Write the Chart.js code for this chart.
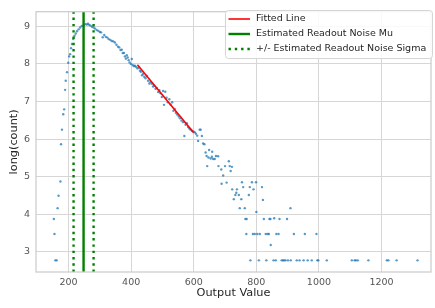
<!DOCTYPE html>
<html>
<head>
<meta charset="utf-8">
<script src="https://cdn.jsdelivr.net/npm/chart.js@4.4.1/dist/chart.umd.min.js"></script>
<style>
  html, body { margin: 0; padding: 0; background: #fff; }
</style>
</head>
<body>
<canvas id="graficoRumore" width="435" height="308"></canvas>
<script>
// histogram points: output value and log of the bin count
const outputValues = [
  153, 155, 158, 162, 165, 168, 174, 176, 179, 183,
  186, 189, 191, 195, 199, 202, 205, 208, 211, 215,
  219, 223, 227, 232, 237, 242, 248, 253, 258, 262,
  266, 270, 275, 280, 285, 290, 295, 300, 304, 309,
  314, 319, 324, 328, 333, 338, 343, 348, 353, 358,
  362, 366, 370, 373, 377, 380, 383, 386, 389, 392,
  395, 399, 402, 405, 409, 412, 416, 420, 424, 428,
  431, 435, 438, 442, 446, 450, 454, 458, 462, 466,
  470, 474, 478, 482, 486, 490, 494, 498, 502, 505,
  509, 513, 517, 522, 526, 531, 535, 539, 543, 547,
  552, 556, 561, 566, 570, 574, 578, 582, 586, 590,
  594, 599, 603, 607, 611, 614, 619, 622, 626, 630,
  634, 638, 641, 643, 647, 649, 654, 658, 659, 662,
  667, 671, 678, 679, 688, 689, 694, 700, 705, 712,
  715, 718, 722, 723, 728, 733, 736, 738, 744, 747,
  752, 754, 758, 763, 765, 768, 769, 776, 779, 781,
  786, 789, 791, 795, 799, 800, 803, 808, 811, 818,
  821, 824, 830, 832, 836, 840, 842, 845, 846, 855,
  857, 862, 864, 871, 874, 881, 885, 889, 893, 898,
  901, 909, 910, 920, 929, 938, 951, 955, 964, 977,
  992, 995, 998, 1025, 1105, 1114, 1118, 1124, 1158, 1217,
  1222, 1248, 1315
];
const logCounts = [
  3.87, 3.47, 2.77, 2.77, 4.16, 4.49, 4.87, 5.86, 6.25, 6.66,
  6.79, 7.31, 7.55, 7.78, 8.03, 8.20, 8.26, 8.42, 8.53, 8.66,
  8.75, 8.81, 8.87, 8.92, 8.97, 9.01, 9.03, 9.06, 9.05, 9.07,
  9.04, 9.02, 8.99, 8.97, 8.94, 8.90, 8.88, 8.85, 8.84, 8.71,
  8.77, 8.72, 8.70, 8.66, 8.64, 8.61, 8.60, 8.57, 8.51, 8.46,
  8.44, 8.37, 8.38, 8.29, 8.29, 8.20, 8.14, 8.23, 8.17, 8.10,
  8.04, 8.00, 8.13, 7.97, 7.94, 7.95, 7.92, 7.88, 7.90, 7.82,
  7.79, 7.70, 7.74, 7.66, 7.62, 7.68, 7.55, 7.48, 7.52, 7.47,
  7.40, 7.42, 7.34, 7.36, 7.25, 7.30, 7.22, 7.12, 7.28, 6.91,
  7.26, 7.10, 6.98, 7.06, 6.92, 6.98, 6.75, 6.80, 6.70, 6.65,
  6.60, 6.55, 6.49, 6.45, 6.08, 6.38, 6.42, 6.32, 6.28, 6.25,
  6.22, 6.20, 6.18, 6.14, 6.09, 5.95, 6.25, 6.25, 6.08, 5.88,
  5.86, 5.64, 5.55, 5.28, 5.51, 5.71, 5.48, 5.53, 5.66, 5.47,
  5.47, 5.55, 5.54, 5.28, 5.19, 4.81, 5.03, 5.28, 4.84, 5.41,
  5.28, 5.15, 5.26, 4.66, 4.40, 4.51, 4.57, 4.66, 4.51, 4.16,
  4.40, 4.85, 4.72, 4.16, 3.87, 3.47, 3.87, 4.51, 4.72, 2.77,
  4.85, 3.47, 4.66, 3.47, 4.85, 4.06, 3.47, 2.77, 3.47, 4.72,
  4.38, 3.87, 3.47, 2.77, 3.47, 3.47, 3.87, 3.87, 3.18, 2.77,
  3.89, 2.77, 3.47, 3.47, 3.87, 2.77, 2.77, 2.77, 2.77, 3.87,
  2.77, 4.16, 2.77, 3.47, 2.77, 2.77, 2.77, 3.47, 2.77, 2.77,
  3.47, 2.77, 2.77, 2.77, 2.77, 2.77, 2.77, 2.77, 2.77, 2.77,
  2.77, 2.77, 2.77
];

// fitted line end points
const fitX = [420, 600];
const fitY = [7.98, 6.17];

// estimated readout noise
const noiseMu = 248;
const noiseSigma = 32;

// axes
const xTicks = [200, 400, 600, 800, 1000, 1200];
const yTicks = [3, 4, 5, 6, 7, 8, 9];
const xRange = [96, 1358];
const yRange = [2.46, 9.39];

const punti = outputValues.map((v, i) => ({ x: v, y: logCounts[i] }));
const rettaFit = fitX.map((v, i) => ({ x: v, y: fitY[i] }));
const verticale = x => [{ x: x, y: yRange[0] }, { x: x, y: yRange[1] }];

// frame round the plot area
const cornice = {
  id: 'cornice',
  afterDraw(chart) {
    const a = chart.chartArea;
    const ctx = chart.ctx;
    ctx.save();
    ctx.strokeStyle = '#cccccc';
    ctx.lineWidth = 1.25;
    ctx.strokeRect(a.left, a.top, a.right - a.left, a.bottom - a.top);
    ctx.restore();
  }
};

// legend inside the plot, top right
const legendaInterna = {
  id: 'legendaInterna',
  afterDraw(chart) {
    const ctx = chart.ctx;
    const voci = chart.data.datasets.filter(d => d.inLegenda);
    ctx.save();
    ctx.fillStyle = 'rgba(255,255,255,0.85)';
    ctx.strokeStyle = '#d5d5d5';
    ctx.lineWidth = 1;
    ctx.beginPath();
    ctx.roundRect(225.5, 10.5, 207, 48, 3);
    ctx.fill();
    ctx.stroke();
    ctx.font = '9.5px "DejaVu Sans"';
    ctx.textBaseline = 'middle';
    voci.forEach((d, i) => {
      const y = 19 + i * 15;
      ctx.beginPath();
      ctx.strokeStyle = d.borderColor;
      ctx.lineWidth = d.borderWidth;
      ctx.setLineDash(d.borderDash || []);
      ctx.moveTo(228.5, y);
      ctx.lineTo(250, y);
      ctx.stroke();
      ctx.setLineDash([]);
      ctx.fillStyle = '#262626';
      ctx.fillText(d.label, 256, y);
    });
    ctx.restore();
  }
};

const ctx = document.getElementById('graficoRumore').getContext('2d');
const grafico = new Chart(ctx, {
  type: 'scatter',
  data: {
    datasets: [
      {
        label: 'Fitted Line',
        type: 'line',
        data: rettaFit,
        borderColor: '#ff0000',
        borderWidth: 1.6,
        pointRadius: 0,
        inLegenda: true,
        order: 1
      },
      {
        label: 'Estimated Readout Noise Mu',
        type: 'line',
        data: verticale(noiseMu),
        borderColor: '#008000',
        borderWidth: 2.4,
        pointRadius: 0,
        inLegenda: true,
        order: 2
      },
      {
        label: '+/- Estimated Readout Noise Sigma',
        type: 'line',
        data: verticale(noiseMu - noiseSigma),
        borderColor: '#008000',
        borderWidth: 2.4,
        borderDash: [2.4, 3.9],
        pointRadius: 0,
        inLegenda: true,
        order: 3
      },
      {
        label: 'sigma +',
        type: 'line',
        data: verticale(noiseMu + noiseSigma),
        borderColor: '#008000',
        borderWidth: 2.4,
        borderDash: [2.4, 3.9],
        pointRadius: 0,
        order: 3
      },
      {
        label: 'log count',
        data: punti,
        backgroundColor: 'rgba(31,119,180,0.75)',
        borderWidth: 0,
        pointRadius: 1.2,
        order: 10
      }
    ]
  },
  options: {
    responsive: false,
    animation: false,
    devicePixelRatio: 1,
    layout: { padding: { top: 6, right: 3, left: 0, bottom: 0 } },
    plugins: {
      legend: { display: false },
      tooltip: { enabled: false }
    },
    scales: {
      x: {
        type: 'linear',
        min: xRange[0],
        max: xRange[1],
        afterBuildTicks: s => { s.ticks = xTicks.map(v => ({ value: v })); },
        afterFit: s => { s.height = 36; },
        grid: { color: '#d6d6d6', lineWidth: 1, drawTicks: false },
        border: { display: false },
        ticks: {
          color: '#555555',
          padding: 5,
          font: { family: 'DejaVu Sans', size: 9.5 },
          callback: v => String(v)
        },
        title: {
          display: true,
          text: 'Output Value',
          color: '#262626',
          font: { family: 'DejaVu Sans', size: 11.3 },
          padding: { top: 0, bottom: 8 }
        }
      },
      y: {
        type: 'linear',
        min: yRange[0],
        max: yRange[1],
        afterBuildTicks: s => { s.ticks = yTicks.map(v => ({ value: v })); },
        afterFit: s => { s.width = 36; },
        grid: { color: '#d6d6d6', lineWidth: 1, drawTicks: false },
        border: { display: false },
        ticks: {
          color: '#555555',
          padding: 6,
          font: { family: 'DejaVu Sans', size: 9.5 },
          callback: v => String(v)
        },
        title: {
          display: true,
          text: 'long(count)',
          color: '#262626',
          font: { family: 'DejaVu Sans', size: 11.3 },
          padding: { top: 7, bottom: 0 }
        }
      }
    }
  },
  plugins: [cornice, legendaInterna]
});
</script>
</body>
</html>
